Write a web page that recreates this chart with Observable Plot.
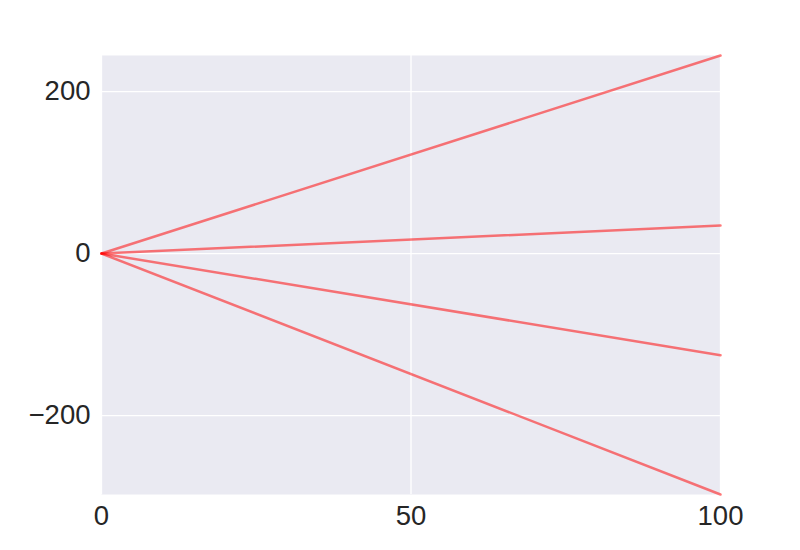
<!DOCTYPE html>
<html>
<head>
<meta charset="utf-8">
<script src="https://cdn.jsdelivr.net/npm/d3@7"></script>
<script src="https://cdn.jsdelivr.net/npm/@observablehq/plot@0.6"></script>
<style>
  html, body { margin: 0; padding: 0; background: #fff; }
  svg { font-family: "Liberation Sans", Arial, sans-serif; }
</style>
</head>
<body>
<div id="chart"></div>
<script>
// Data
const xStart = 0;
const xEnd = 100;
const series = ["a", "b", "c", "d"];
const endValues = [244.5, 34.5, -125.5, -297.5];
const xTicks = [0, 50, 100];
const yTicks = [-200, 0, 200];
const yDomain = [-297.5, 244.5];

const rows = [];
series.forEach((s, i) => {
  rows.push({series: s, x: xStart, y: 0});
  rows.push({series: s, x: xEnd, y: endValues[i]});
});

const fmt = d => (d < 0 ? "\u2212" + Math.abs(d) : String(d));

const chart = Plot.plot({
  width: 800,
  height: 550,
  marginLeft: 101,
  marginRight: 80,
  marginTop: 55,
  marginBottom: 56,
  style: {fontSize: "27.5px", color: "#262626", background: "#fff", fontFamily: "'Liberation Sans', Arial, sans-serif"},
  x: {domain: [xStart, xEnd], ticks: xTicks, tickSize: 0, tickPadding: 11, tickFormat: fmt, label: null},
  y: {domain: yDomain, ticks: yTicks, tickSize: 0, tickPadding: 11, tickFormat: fmt, label: null},
  marks: [
    Plot.frame({fill: "#eaeaf2", stroke: null}),
    Plot.gridX(xTicks, {stroke: "#fff", strokeOpacity: 1, strokeWidth: 1.3}),
    Plot.gridY(yTicks, {stroke: "#fff", strokeOpacity: 1, strokeWidth: 1.3}),
    Plot.line(rows, {x: "x", y: "y", z: "series", stroke: "#ff0000", strokeOpacity: 0.52, strokeWidth: 2.5})
  ]
});
document.getElementById("chart").appendChild(chart);
</script>
</body>
</html>
